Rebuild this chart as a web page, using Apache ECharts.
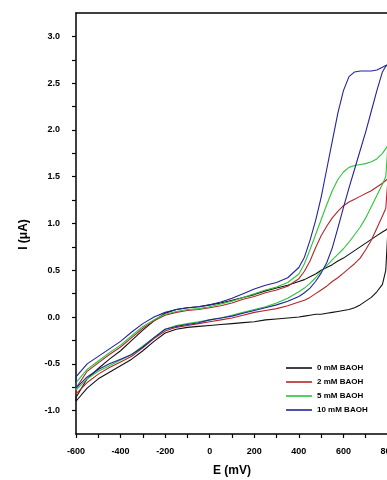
<!DOCTYPE html>
<html>
<head>
<meta charset="utf-8">
<script src="https://cdn.jsdelivr.net/npm/echarts@6/dist/echarts.min.js"></script>
<style>
html,body{margin:0;padding:0;background:#fff;overflow:hidden;width:387px;height:480px;}
#chart{width:387px;height:480px;position:absolute;left:0;top:0;}
</style>
</head>
<body>
<div id="chart"></div>
<script>
// Potential grid (mV)
const E = [-600,-550,-500,-450,-400,-350,-300,-250,-200,-150,-100,-50,0,50,100,150,200,250,300,350,400,425,450,475,500,525,550,575,600,625,650,675,700,725,750,775,790,800];

const seriesNames = ['0 mM BAOH','2 mM BAOH','5 mM BAOH','10 mM BAOH'];
const seriesColors = ['#111111','#b3262a','#2fc23a','#23239a'];

// 0 mM
const I0_up  = [-0.86,-0.66,-0.55,-0.45,-0.36,-0.25,-0.14,-0.04,0.04,0.08,0.10,0.11,0.13,0.15,0.18,0.21,0.24,0.28,0.31,0.34,0.38,0.40,0.43,0.46,0.50,0.53,0.56,0.60,0.63,0.67,0.71,0.75,0.79,0.83,0.87,0.91,0.93,0.95];
const I0_low = [-0.90,-0.76,-0.66,-0.59,-0.52,-0.45,-0.36,-0.26,-0.17,-0.13,-0.11,-0.10,-0.09,-0.08,-0.07,-0.06,-0.05,-0.03,-0.02,-0.01,0.00,0.01,0.02,0.03,0.03,0.04,0.05,0.06,0.07,0.08,0.10,0.13,0.17,0.21,0.27,0.35,0.50,0.95];
// 2 mM
const I2_up  = [-0.76,-0.58,-0.49,-0.40,-0.32,-0.22,-0.12,-0.04,0.02,0.05,0.07,0.08,0.10,0.12,0.15,0.19,0.22,0.26,0.29,0.33,0.41,0.49,0.60,0.74,0.87,0.97,1.06,1.13,1.19,1.23,1.26,1.29,1.32,1.35,1.39,1.43,1.46,1.48];
const I2_low = [-0.82,-0.70,-0.61,-0.54,-0.48,-0.42,-0.33,-0.23,-0.15,-0.11,-0.09,-0.07,-0.05,-0.03,-0.01,0.02,0.05,0.07,0.09,0.12,0.16,0.18,0.21,0.25,0.29,0.33,0.38,0.42,0.47,0.52,0.57,0.63,0.72,0.82,0.95,1.08,1.16,1.48];
// 5 mM
const I5_up  = [-0.70,-0.56,-0.47,-0.38,-0.30,-0.20,-0.10,-0.03,0.03,0.06,0.08,0.09,0.11,0.14,0.17,0.21,0.25,0.29,0.32,0.37,0.46,0.57,0.72,0.88,1.04,1.20,1.35,1.47,1.55,1.60,1.62,1.63,1.64,1.66,1.69,1.75,1.80,1.84];
const I5_low = [-0.78,-0.66,-0.58,-0.52,-0.46,-0.40,-0.31,-0.22,-0.13,-0.09,-0.07,-0.05,-0.03,-0.01,0.02,0.05,0.08,0.11,0.15,0.20,0.27,0.31,0.36,0.42,0.49,0.55,0.61,0.67,0.73,0.80,0.88,0.96,1.06,1.18,1.30,1.42,1.50,1.84];
// 10 mM
const I10_up  = [-0.64,-0.50,-0.42,-0.34,-0.26,-0.16,-0.07,0.00,0.05,0.08,0.10,0.11,0.13,0.16,0.20,0.25,0.30,0.34,0.37,0.42,0.53,0.64,0.82,1.03,1.28,1.58,1.88,2.18,2.42,2.57,2.62,2.63,2.63,2.63,2.64,2.67,2.69,2.70];
const I10_low = [-0.76,-0.64,-0.56,-0.50,-0.45,-0.40,-0.32,-0.22,-0.13,-0.10,-0.08,-0.06,-0.03,-0.01,0.01,0.04,0.07,0.10,0.13,0.17,0.22,0.26,0.31,0.38,0.47,0.58,0.74,0.95,1.17,1.38,1.58,1.78,1.98,2.20,2.42,2.62,2.68,2.70];

const yTickLabels = ['-1.0','-0.5','0.0','0.5','1.0','1.5','2.0','2.5','3.0'];
const xTickLabels = ['-600','-400','-200','0','200','400','600','800'];

function loop(up, low) {
  const pts = E.map((e, i) => [e, up[i]]);
  for (let i = E.length - 1; i >= 0; i--) pts.push([E[i], low[i]]);
  pts.push([E[0], up[0]]);
  return pts;
}
const curves = [loop(I0_up, I0_low), loop(I2_up, I2_low), loop(I5_up, I5_low), loop(I10_up, I10_low)];

const chart = echarts.init(document.getElementById('chart'), null, {renderer: 'canvas', width: 387, height: 480});
const lbl = {fontFamily: 'Liberation Sans, Arial, sans-serif', fontWeight: 'bold', fontSize: 9, color: '#000'};
chart.setOption({
  animation: false,
  backgroundColor: '#fff',
  grid: {left: 76, top: 13, right: -1, bottom: 46, containLabel: false, outerBoundsMode: 'none'},
  xAxis: [{
    type: 'value', min: -600, max: 800, interval: 100,
    name: 'E (mV)', nameLocation: 'middle', nameGap: 31,
    nameTextStyle: {fontFamily: 'Liberation Sans, Arial, sans-serif', fontWeight: 'bold', fontSize: 12, color: '#000'},
    axisLine: {show: true, onZero: false, lineStyle: {color: '#000', width: 1.5}},
    axisTick: {show: true, inside: false, length: 4, lineStyle: {color: '#000', width: 1.2}},
    axisLabel: Object.assign({margin: 13, showMinLabel: true, showMaxLabel: true, hideOverlap: false,
      formatter: v => xTickLabels.indexOf(String(v)) >= 0 ? String(v) : ''}, lbl),
    splitLine: {show: false}
  }, {
    type: 'value', position: 'top', min: -600, max: 800,
    axisLine: {show: true, onZero: false, lineStyle: {color: '#000', width: 1.5}},
    axisTick: {show: false}, axisLabel: {show: false}, splitLine: {show: false}
  }],
  yAxis: {
    type: 'value', min: -1.25, max: 3.25, interval: 0.25,
    name: 'I (μA)', nameLocation: 'middle', nameGap: 46, nameRotate: 90,
    nameTextStyle: {fontFamily: 'Liberation Sans, Arial, sans-serif', fontWeight: 'bold', fontSize: 12, color: '#000', padding: [0, 22, 0, 0]},
    axisLine: {show: true, onZero: false, lineStyle: {color: '#000', width: 1.5}},
    axisTick: {show: true, inside: false, length: 4, lineStyle: {color: '#000', width: 1.2}},
    axisLabel: Object.assign({margin: 16, showMinLabel: false, showMaxLabel: false, hideOverlap: false,
      formatter: v => { const s = v.toFixed(1); return (yTickLabels.indexOf(s) >= 0 && Math.abs(v * 2 - Math.round(v * 2)) < 1e-6) ? s : ''; }}, lbl),
    splitLine: {show: false}
  },
  legend: {
    orient: 'vertical', left: 281, top: 358, itemWidth: 26, itemHeight: 1.6, itemGap: 4,
    icon: 'rect',
    textStyle: {fontFamily: 'Liberation Sans, Arial, sans-serif', fontWeight: 'bold', fontSize: 8, color: '#000', lineHeight: 10},
    data: seriesNames
  },
  series: curves.map((pts, k) => ({
    name: seriesNames[k], type: 'line', data: pts, showSymbol: false, smooth: false,
    xAxisIndex: 0,
    lineStyle: {color: seriesColors[k], width: 1.1}, itemStyle: {color: seriesColors[k]},
    clip: true
  }))
});
</script>
</body>
</html>
